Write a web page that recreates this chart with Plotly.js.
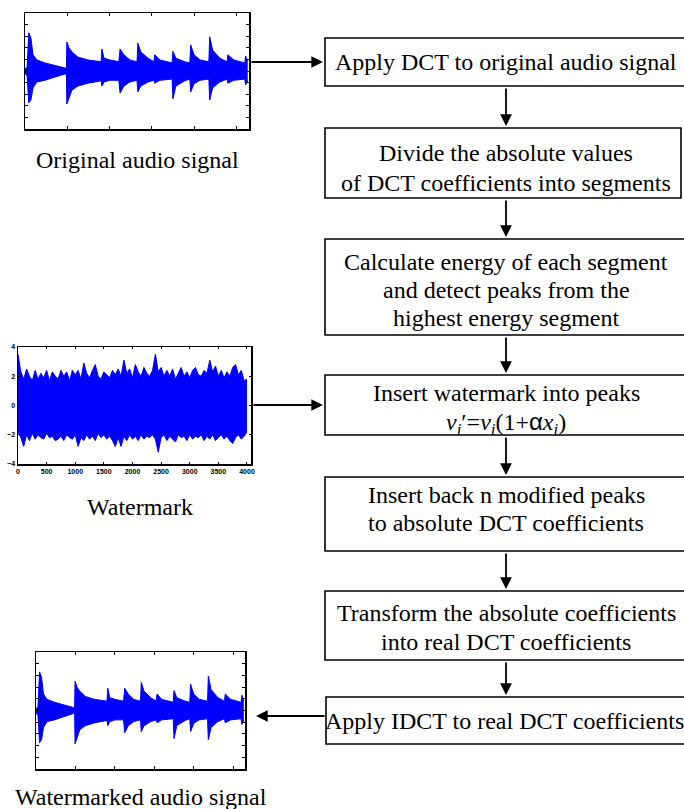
<!DOCTYPE html>
<html>
<head>
<meta charset="utf-8">
<script src="https://cdn.plot.ly/plotly-3.0.1.min.js"></script>
<style>html,body{margin:0;padding:0;background:#fff;}#chart{width:684px;height:809px;}</style>
</head>
<body>
<div id="chart"></div>
<script>
// ---------- Flowchart steps (one array per box, one entry per line) ----------
const stepLines = [
  ["Apply DCT to original audio signal"],
  ["Divide the absolute values", "of DCT coefficients into segments"],
  ["Calculate energy of each segment", "and detect peaks from the", "highest energy segment"],
  ["Insert watermark into peaks", "<i>v<sub>i</sub></i>′=<i>v<sub>i</sub></i>(1+<span style=\"font-family:Liberation Sans\">α</span><i>x<sub>i</sub></i>)"],
  ["Insert back n modified peaks", "to absolute DCT coefficients"],
  ["Transform the absolute coefficients", "into real DCT coefficients"],
  ["Apply IDCT to real DCT coefficients"]
];
const captions = ["Original audio signal", "Watermark", "Watermarked audio signal"];

// ---------- Audio signal envelope (time units, amplitude) ----------
const audioTime  = [0.00,0.05,0.09,0.14,0.19,0.28,0.47,0.71,0.95,0.98,0.99,1.04,1.11,1.25,1.49,1.80,1.82,1.87,2.01,2.22,2.25,2.34,2.48,2.65,2.67,2.74,2.91,3.05,3.07,3.19,3.48,3.50,3.57,3.78,3.90,3.92,4.00,4.14,4.35,4.37,4.44,4.61,4.78,4.80,4.94,5.20,5.22,5.27];
const audioUpper = [0.03,0.07,0.66,0.57,0.28,0.19,0.14,0.09,0.05,0.05,0.50,0.40,0.33,0.24,0.19,0.16,0.38,0.22,0.19,0.16,0.38,0.28,0.19,0.16,0.48,0.33,0.22,0.16,0.28,0.19,0.14,0.34,0.22,0.16,0.14,0.45,0.28,0.19,0.16,0.59,0.36,0.22,0.16,0.28,0.19,0.14,0.26,0.16];
const audioLower = [-0.03,-0.09,-0.55,-0.50,-0.29,-0.19,-0.16,-0.10,-0.05,-0.05,-0.57,-0.47,-0.33,-0.26,-0.21,-0.17,-0.26,-0.19,-0.16,-0.16,-0.38,-0.26,-0.19,-0.16,-0.36,-0.26,-0.19,-0.16,-0.21,-0.16,-0.14,-0.48,-0.26,-0.17,-0.14,-0.36,-0.22,-0.16,-0.14,-0.50,-0.29,-0.19,-0.14,-0.21,-0.16,-0.14,-0.24,-0.16];

// ---------- Watermark envelope (every 50 samples, 0..4000) ----------
const wmStep = 50;
const wmUpper = [3.5,2.3,1.8,2.5,2.0,1.7,2.4,1.8,2.2,1.9,2.4,1.7,2.3,2.0,1.8,2.4,2.0,2.3,1.7,2.4,2.1,2.4,1.8,2.9,2.2,1.9,2.4,2.8,2.0,1.8,2.3,2.1,1.9,2.4,2.1,2.5,2.0,3.1,2.2,2.5,1.9,2.8,2.3,2.0,2.6,2.2,2.0,2.4,3.5,2.3,2.6,2.0,2.4,2.0,2.5,1.8,2.2,2.6,2.0,2.3,1.9,2.4,2.6,2.1,2.0,2.4,2.2,3.1,2.3,2.7,2.0,2.4,1.9,2.3,2.0,2.6,2.8,2.1,2.4,1.7,1.8];
const wmLower = [-1.8,-2.2,-2.8,-2.0,-2.4,-1.9,-2.3,-2.0,-2.2,-2.3,-1.9,-2.2,-2.1,-2.4,-2.3,-2.1,-2.4,-2.0,-2.2,-2.3,-2.0,-2.8,-2.2,-2.4,-2.0,-2.3,-2.1,-2.4,-1.9,-2.2,-2.0,-2.3,-2.1,-2.4,-2.8,-2.2,-2.8,-2.1,-2.4,-2.0,-2.3,-2.1,-2.4,-2.0,-2.3,-2.1,-2.2,-2.0,-2.3,-3.2,-2.2,-2.0,-2.4,-2.1,-2.3,-2.5,-2.0,-2.2,-2.1,-2.4,-2.0,-2.3,-2.1,-2.2,-2.0,-2.4,-2.1,-2.3,-2.0,-2.4,-2.2,-2.0,-2.3,-2.1,-2.4,-2.6,-2.2,-2.0,-2.3,-2.1,-1.8];
const wmTickVals = [0,500,1000,1500,2000,2500,3000,3500,4000];
const wmYTicks = [-4,-2,0,2,4];
const wmSamples = wmUpper.map((_, i) => i * wmStep);

// ---------- Layout geometry (pixels) ----------
const W = 684, H = 809;
const boxes = [
  [325, 690, 38, 86],
  [325, 681, 128, 198],
  [325, 690, 239, 335],
  [325, 690, 375, 435],
  [325, 690, 477, 551],
  [325, 690, 591, 660],
  [326, 690, 697, 744]
];
const lineY = [[62], [153, 183], [262, 290, 318], [393, 423], [495, 523], [613, 642], [721]];
const lineX = [506, 506, 506, 506, 506, 506, 504];
const arrowX = 506;
const BLUE = "#0000FF";
const FONT = "Liberation Serif, Times New Roman, serif";
const FS = 24;

function dom(x0, x1, y0, y1) {
  return { x: [x0 / W, x1 / W], y: [1 - y1 / H, 1 - y0 / H] };
}
const dA = dom(25, 249, 13, 129);
const dW = dom(18, 251, 347, 464);
const dB = dom(36, 245, 652, 769);

function envTraces(xs, lo, up, xa, ya) {
  return [
    { x: xs, y: lo, xaxis: xa, yaxis: ya, mode: "lines", line: { color: BLUE, width: 1 }, hoverinfo: "skip", showlegend: false },
    { x: xs, y: up, xaxis: xa, yaxis: ya, mode: "lines", fill: "tonexty", fillcolor: BLUE, line: { color: BLUE, width: 1 }, hoverinfo: "skip", showlegend: false }
  ];
}

const traces = [].concat(
  envTraces(audioTime, audioLower, audioUpper, "x2", "y2"),
  envTraces(wmSamples, wmLower, wmUpper, "x3", "y3"),
  envTraces(audioTime, audioLower, audioUpper, "x4", "y4")
);

function audioAxes(d, xa, ya) {
  const common = { showline: true, linecolor: "#000", linewidth: 1.5, mirror: "allticks", ticks: "inside", ticklen: 3, tickcolor: "#000", showgrid: false, zeroline: false, showticklabels: false, fixedrange: true };
  return [
    Object.assign({}, common, { domain: d.x, anchor: ya, range: [0, 5.3], tickvals: [1, 2, 3, 4, 5] }),
    Object.assign({}, common, { domain: d.y, anchor: xa, range: [-1, 1], tickvals: [-0.8, -0.6, -0.4, -0.2, 0, 0.2, 0.4, 0.6, 0.8] })
  ];
}
const [xa2, ya2] = audioAxes(dA, "x2", "y2");
const [xa4, ya4] = audioAxes(dB, "x4", "y4");
const tickFont = { family: "Liberation Sans, Arial", size: 7, color: "#000", weight: "bold" };
const xa3 = { domain: dW.x, anchor: "y3", range: [0, 4070], tickvals: wmTickVals, showline: true, linecolor: "#000", linewidth: 1.5, mirror: "ticks", ticks: "inside", ticklen: 2, tickcolor: "#000", showgrid: false, zeroline: false, tickfont: tickFont, fixedrange: true };
const ya3 = { domain: dW.y, anchor: "x3", range: [-4, 4], tickvals: wmYTicks, showline: true, linecolor: "#000", linewidth: 1.5, mirror: "ticks", ticks: "inside", ticklen: 2, tickcolor: "#000", showgrid: false, zeroline: false, tickfont: tickFont, fixedrange: true };

const shapes = boxes.map(b => ({ type: "rect", xref: "x", yref: "y", x0: b[0], x1: b[1], y0: b[2], y1: b[3], line: { color: "#000", width: 1.6 }, fillcolor: "rgba(0,0,0,0)", layer: "above" }));

const annotations = [];
stepLines.forEach((lines, i) => {
  lines.forEach((t, j) => {
    annotations.push({ xref: "x", yref: "y", x: lineX[i], y: lineY[i][j], text: t, showarrow: false, xanchor: "center", yanchor: "middle", align: "center", font: { family: FONT, size: FS, color: "#000" } });
  });
});
const capPos = [[137, 160], [140, 507], [141, 797]];
captions.forEach((c, i) => {
  annotations.push({ xref: "x", yref: "y", x: capPos[i][0], y: capPos[i][1], text: c, showarrow: false, xanchor: "center", yanchor: "middle", font: { family: FONT, size: FS, color: "#000" } });
});
function arrow(x0, y0, x1, y1) {
  annotations.push({ xref: "x", yref: "y", axref: "x", ayref: "y", x: x1, y: y1, ax: x0, ay: y0, text: "", showarrow: true, arrowhead: 2, arrowsize: 1.3, arrowwidth: 1.8, arrowcolor: "#000", standoff: 0, startstandoff: 0 });
}
for (let i = 0; i < boxes.length - 1; i++) {
  arrow(arrowX, boxes[i][3] + 1, arrowX, boxes[i + 1][2] - 2);
}
arrow(250, 62, 323, 62);
arrow(252, 405, 323, 405);
arrow(326, 716, 256, 716);

const layout = {
  width: W, height: H,
  margin: { l: 0, r: 0, t: 0, b: 0 },
  paper_bgcolor: "#fff", plot_bgcolor: "rgba(0,0,0,0)",
  showlegend: false,
  xaxis: { domain: [0, 1], range: [0, W], visible: false, fixedrange: true },
  yaxis: { domain: [0, 1], range: [H, 0], visible: false, fixedrange: true },
  xaxis2: xa2, yaxis2: ya2,
  xaxis3: xa3, yaxis3: ya3,
  xaxis4: xa4, yaxis4: ya4,
  shapes: shapes,
  annotations: annotations
};
Plotly.newPlot("chart", traces, layout, { staticPlot: true, displayModeBar: false });
</script>
</body>
</html>
